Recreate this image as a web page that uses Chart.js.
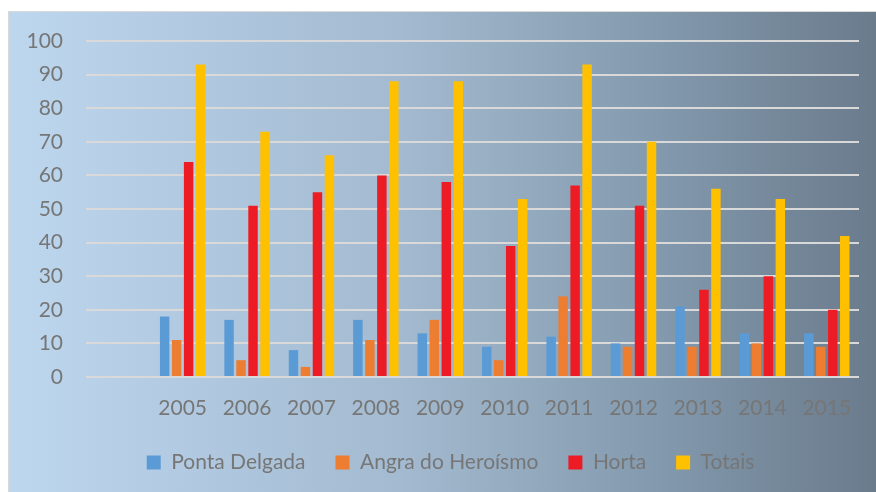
<!DOCTYPE html>
<html>
<head>
<meta charset="utf-8">
<script src="https://cdn.jsdelivr.net/npm/chart.js@4"></script>
<style>
  html, body { margin: 0; padding: 0; background: #fff; }
  #frame {
    position: absolute; left: 8px; top: 11px; width: 868px; height: 481px;
    border-top: 1px solid #d9d9d9; border-left: 1px solid #d9d9d9;
    box-sizing: border-box;
    background: linear-gradient(to right, #bdd7ef 0%, #a3bad0 45%, #8399ad 75%, #6a7b8c 100%);
  }
</style>
</head>
<body>
<div id="frame"><canvas id="chart" width="867" height="480"></canvas></div>
<script>
  // data; first category is empty, as in the original
  const anos = ['', '2005', '2006', '2007', '2008', '2009', '2010', '2011', '2012', '2013', '2014', '2015'];
  const pontaDelgada = [null, 18, 17, 8, 17, 13, 9, 12, 10, 21, 13, 13];
  const angra = [null, 11, 5, 3, 11, 17, 5, 24, 9, 9, 10, 9];
  const horta = [null, 64, 51, 55, 60, 58, 39, 57, 51, 26, 30, 20];
  const totais = [null, 93, 73, 66, 88, 88, 53, 93, 70, 56, 53, 42];
  const yTicks = [0, 10, 20, 30, 40, 50, 60, 70, 80, 90, 100];

  const cinza = '#767676';
  const fonte = 'Lato, "Liberation Sans", sans-serif';

  new Chart(document.getElementById('chart'), {
    type: 'bar',
    data: {
      labels: anos,
      datasets: [
        { label: 'Ponta Delgada', data: pontaDelgada, backgroundColor: '#5b9bd5' },
        { label: 'Angra do Heroísmo', data: angra, backgroundColor: '#ed7d31' },
        { label: 'Horta', data: horta, backgroundColor: '#ed1c24' },
        { label: 'Totais', data: totais, backgroundColor: '#ffc000' }
      ]
    },
    options: {
      responsive: false,
      animation: false,
      datasets: { bar: { categoryPercentage: 0.744, barPercentage: 0.79 } },
      layout: { padding: { left: 16, right: 0, top: 29, bottom: 9 } },
      plugins: {
        tooltip: { enabled: false },
        legend: {
          position: 'bottom',
          labels: {
            boxWidth: 14, boxHeight: 14, padding: 30,
            color: cinza, font: { family: fonte, size: 21 }
          }
        }
      },
      scales: {
        x: {
          grid: { display: false },
          border: { display: false },
          ticks: {
            color: cinza, font: { family: fonte, size: 21 },
            padding: 11, autoSkip: false, maxRotation: 0
          },
          afterFit: (s) => { s.height = 45; }
        },
        y: {
          min: 0, max: 100,
          afterBuildTicks: (s) => { s.ticks = yTicks.map(v => ({ value: v })); },
          grid: { color: '#d9d9d9', lineWidth: 2, drawTicks: false },
          border: { display: false },
          ticks: { color: cinza, font: { family: fonte, size: 21 }, padding: 23 },
          afterFit: (s) => { s.width = 61; s.paddingTop = 0; s.paddingBottom = 0; }
        },
        // empty right-hand strip, keeps the plot off the right edge
        margem: {
          position: 'right',
          grid: { display: false },
          border: { display: false },
          ticks: { display: false },
          afterFit: (s) => { s.width = 17; }
        }
      }
    }
  });
</script>
</body>
</html>
